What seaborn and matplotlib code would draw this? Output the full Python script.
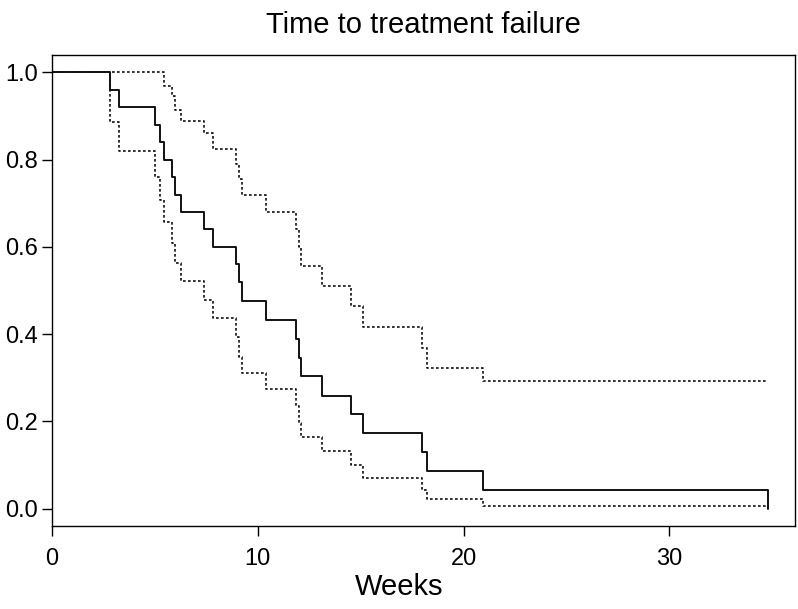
import numpy as np
import pandas as pd
import matplotlib
matplotlib.use("Agg")
import matplotlib.pyplot as plt
import seaborn as sns

# Kaplan-Meier estimate and pointwise confidence limits
weeks = [0, 2.83, 3.25, 4.99, 5.23, 5.43, 5.85, 5.99, 6.29, 7.39, 7.83, 8.96,
         9.09, 9.24, 10.41, 11.84, 12.0, 12.09, 13.1, 14.53, 15.09, 17.96,
         18.21, 20.93, 34.8]
survival = [1.0, 0.96, 0.92, 0.88, 0.84, 0.80, 0.76, 0.72, 0.68, 0.64, 0.60,
            0.56, 0.52, 0.476, 0.433, 0.389, 0.346, 0.303, 0.259, 0.216,
            0.173, 0.130, 0.087, 0.043, 0.0]
upper = [1.0, 1.0, 1.0, 1.0, 1.0, 0.97, 0.945, 0.915, 0.889, 0.86, 0.825,
         0.79, 0.755, 0.718, 0.68, 0.64, 0.599, 0.556, 0.511, 0.464, 0.417,
         0.368, 0.322, 0.292, 0.292]
lower = [1.0, 0.887, 0.82, 0.76, 0.707, 0.657, 0.61, 0.562, 0.521, 0.478,
         0.436, 0.394, 0.348, 0.311, 0.273, 0.235, 0.196, 0.163, 0.131,
         0.099, 0.070, 0.042, 0.023, 0.005, 0.005]

df = pd.DataFrame({'weeks': weeks, 'survival': survival,
                   'upper': upper, 'lower': lower})

sns.set_style('white')
plt.rcParams['font.family'] = ['Liberation Sans', 'DejaVu Sans']
plt.rcParams['text.color'] = 'black'
plt.rcParams['xtick.color'] = 'black'
plt.rcParams['ytick.color'] = 'black'
plt.rcParams['axes.labelcolor'] = 'black'

fig = plt.figure(figsize=(7.98, 6.09), dpi=100)
ax = fig.add_axes([0.0652, 0.1363, 0.931, 0.7734])

sns.lineplot(data=df, x='weeks', y='survival', drawstyle='steps-post',
             color='#111111', linewidth=1.4, ax=ax)
for col in ['upper', 'lower']:
    sns.lineplot(data=df, x='weeks', y=col, drawstyle='steps-post',
                 color='#111111', linewidth=1.2, dashes=False, ax=ax,
                 linestyle=(0, (1.6, 1.4)))

ax.set_xlim(0, 36.1)
ax.set_ylim(-0.04, 1.04)
ax.set_xticks([0, 10, 20, 30])
ax.set_yticks([0.0, 0.2, 0.4, 0.6, 0.8, 1.0])
ax.set_yticklabels(['0.0', '0.2', '0.4', '0.6', '0.8', '1.0'])
ax.tick_params(axis='both', direction='out', length=7, width=1.0,
               labelsize=17, left=True, bottom=True)
ax.tick_params(axis='x', pad=9)
ax.tick_params(axis='y', pad=3)
for s in ax.spines.values():
    s.set_color('black')
    s.set_linewidth(1.0)

ax.set_xlabel('Weeks', fontsize=21)
ax.xaxis.set_label_coords(0.467, -0.1)
ax.set_ylabel('')
ax.set_title('Time to treatment failure', fontsize=21, pad=16)

fig.savefig('out.png', dpi=100)
